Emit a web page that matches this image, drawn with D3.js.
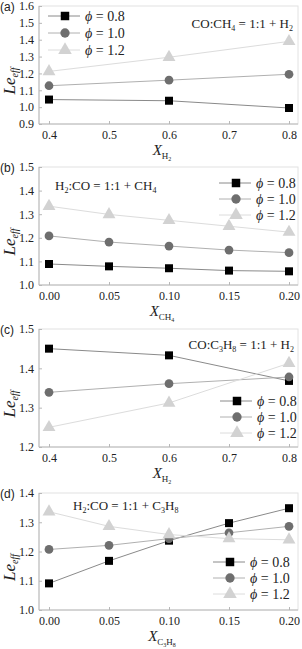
<!DOCTYPE html>
<html>
<head>
<meta charset="utf-8">
<script src="https://cdn.jsdelivr.net/npm/d3@7"></script>
<style>
  body { margin: 0; background: #fff; }
  svg { display: block; }
  text { font-family: "Liberation Serif", "Times New Roman", serif; fill: #222; }
  .plab { font-family: "Liberation Sans", Arial, sans-serif; font-size: 12px; }
</style>
</head>
<body>
<svg id="chart" width="302" height="649"></svg>
<script>
// panel (a): CO:CH4 = 1:1 + H2
var xA = [0.4, 0.6, 0.8];
var aPhi08 = [1.045, 1.038, 0.995];
var aPhi10 = [1.127, 1.160, 1.195];
var aPhi12 = [1.212, 1.296, 1.390];
var xTicksA = [0.4, 0.5, 0.6, 0.7, 0.8];
var yTicksA = [0.9, 1.0, 1.1, 1.2, 1.3, 1.4, 1.5, 1.6];

// panel (b): H2:CO = 1:1 + CH4
var xB = [0.00, 0.05, 0.10, 0.15, 0.20];
var bPhi08 = [1.089, 1.079, 1.071, 1.061, 1.058];
var bPhi10 = [1.208, 1.182, 1.165, 1.148, 1.137];
var bPhi12 = [1.334, 1.299, 1.274, 1.249, 1.224];
var xTicksB = [0.00, 0.05, 0.10, 0.15, 0.20];
var yTicksB = [1.0, 1.1, 1.2, 1.3, 1.4, 1.5];

// panel (c): CO:C3H8 = 1:1 + H2
var xC = [0.4, 0.6, 0.8];
var cPhi08 = [1.450, 1.433, 1.368];
var cPhi10 = [1.339, 1.361, 1.378];
var cPhi12 = [1.250, 1.312, 1.413];
var xTicksC = [0.4, 0.5, 0.6, 0.7, 0.8];
var yTicksC = [1.2, 1.3, 1.4, 1.5];

// panel (d): H2:CO = 1:1 + C3H8
var xD = [0.00, 0.05, 0.10, 0.15, 0.20];
var dPhi08 = [1.091, 1.168, 1.237, 1.297, 1.348];
var dPhi10 = [1.207, 1.221, 1.244, 1.264, 1.286];
var dPhi12 = [1.336, 1.286, 1.258, 1.244, 1.240];
var xTicksD = [0.00, 0.05, 0.10, 0.15, 0.20];
var yTicksD = [1.0, 1.1, 1.2, 1.3, 1.4];

var seriesNames = ["0.8", "1.0", "1.2"];
var markerFill = ["#000000", "#6e6e6e", "#d2d2d2"];
var lineColor = ["#8a8a8a", "#b0b0b0", "#dcdcdc"];
var markerType = [d3.symbolSquare, d3.symbolCircle, d3.symbolTriangle];
var markerSize = [64, 60, 72];

var svg = d3.select("#chart");

function drawPanel(p) {
    var g = svg.append("g");
    var left = 39, right = 298;

    var x = d3.scaleLinear().domain(p.xDomain).range([49, 289]);
    var y = d3.scaleLinear().domain(p.yDomain).range([p.bottom, p.top]);

    // frame
    g.append("rect")
        .attr("x", left).attr("y", p.top)
        .attr("width", right - left).attr("height", p.bottom - p.top)
        .attr("fill", "none").attr("stroke", "#e2e2e2").attr("stroke-width", 1);

    var xAxis = d3.axisBottom(x).tickValues(p.xTicks).tickSize(-3).tickPadding(6)
        .tickFormat(d3.format(p.xFmt));
    var gx = g.append("g").attr("transform", "translate(0," + p.bottom + ")").call(xAxis);
    gx.select(".domain").attr("d", "M" + left + ",0H" + right).attr("stroke", "#b8b8b8");
    gx.selectAll(".tick line").attr("stroke", "#b8b8b8");
    gx.selectAll("text").attr("font-size", 12).attr("fill", "#222")
        .attr("font-family", "Liberation Serif, serif");

    var yAxis = d3.axisLeft(y).tickValues(p.yTicks).tickSize(-3).tickPadding(5)
        .tickFormat(d3.format(".1f"));
    var gy = g.append("g").attr("transform", "translate(" + left + ",0)").call(yAxis);
    gy.select(".domain").attr("d", "M0," + p.top + "V" + p.bottom).attr("stroke", "#b8b8b8");
    gy.selectAll(".tick line").attr("stroke", "#b8b8b8");
    gy.selectAll("text").attr("font-size", 12).attr("fill", "#222")
        .attr("font-family", "Liberation Serif, serif");

    // panel letter
    g.append("text").attr("class", "plab").attr("x", 0).attr("y", p.top + 5).text(p.label);

    // y label Le_eff
    var yl = g.append("text")
        .attr("transform", "translate(15," + ((p.top + p.bottom) / 2 + 16) + ") rotate(-90)")
        .attr("text-anchor", "middle")
        .attr("font-size", 17).attr("font-style", "italic");
    yl.append("tspan").text("Le");
    yl.append("tspan").attr("font-size", 10).attr("dy", 3).text("eff");

    // x label
    var xl = g.append("text")
        .attr("x", 162).attr("y", p.bottom + 31)
        .attr("text-anchor", "middle")
        .attr("font-size", 15).attr("font-style", "italic");
    xl.append("tspan").text("X");
    p.xSub.forEach(function (s) {
        xl.append("tspan").attr("font-size", s.small ? 6 : 9).attr("font-style", "normal")
            .attr("dy", s.dy).text(s.t);
    });

    // series lines then markers
    var line = d3.line().x(function (d) { return x(d[0]); }).y(function (d) { return y(d[1]); });
    p.series.forEach(function (vals, i) {
        var pts = p.xs.map(function (xv, j) { return [xv, vals[j]]; });
        g.append("path").datum(pts).attr("d", line)
            .attr("fill", "none").attr("stroke", lineColor[i]).attr("stroke-width", 1);
    });
    p.series.forEach(function (vals, i) {
        var pts = p.xs.map(function (xv, j) { return [xv, vals[j]]; });
        g.selectAll(".m" + i).data(pts).enter().append("path")
            .attr("class", "m" + i)
            .attr("transform", function (d) { return "translate(" + x(d[0]) + "," + y(d[1]) + ")"; })
            .attr("d", d3.symbol().type(markerType[i]).size(markerSize[i]))
            .attr("fill", markerFill[i]);
    });

    // legend
    var lg = g.append("g");
    seriesNames.forEach(function (nm, i) {
        var ly = p.leg.y + i * p.leg.dy;
        lg.append("line").attr("x1", p.leg.x).attr("x2", p.leg.x + 32)
            .attr("y1", ly).attr("y2", ly).attr("stroke", lineColor[i]);
        lg.append("path").attr("transform", "translate(" + (p.leg.x + 17) + "," + ly + ")")
            .attr("d", d3.symbol().type(markerType[i]).size(markerSize[i] + 8))
            .attr("fill", markerFill[i]);
        var t = lg.append("text").attr("x", p.leg.x + 37).attr("y", ly + 5).attr("font-size", 14);
        t.append("tspan").attr("font-style", "italic").text("\u03d5");
        t.append("tspan").text(" = " + nm);
    });

    // annotation
    var an = g.append("text").attr("x", p.ann.x).attr("y", p.ann.y)
        .attr("text-anchor", p.ann.anchor).attr("font-size", 13);
    p.ann.parts.forEach(function (s) {
        if (s.sub) an.append("tspan").attr("font-size", 8).attr("dy", 3).text(s.t);
        else an.append("tspan").attr("dy", s.after ? -3 : 0).text(s.t);
    });
}

drawPanel({
    label: "(a)", top: 6, bottom: 124,
    xDomain: [0.4, 0.8], yDomain: [0.9, 1.6], xTicks: xTicksA, yTicks: yTicksA, xFmt: ".1f",
    xs: xA, series: [aPhi08, aPhi10, aPhi12],
    xSub: [{t: "H", dy: 4}, {t: "2", dy: 2, small: true}],
    leg: {x: 48, y: 16, dy: 17},
    ann: {x: 293, y: 28, anchor: "end",
        parts: [{t: "CO:CH"}, {t: "4", sub: true}, {t: " = 1:1 + H", after: true}, {t: "2", sub: true}]}
});

drawPanel({
    label: "(b)", top: 167, bottom: 285,
    xDomain: [0, 0.2], yDomain: [1.0, 1.5], xTicks: xTicksB, yTicks: yTicksB, xFmt: ".2f",
    xs: xB, series: [bPhi08, bPhi10, bPhi12],
    xSub: [{t: "CH", dy: 4}, {t: "4", dy: 2, small: true}],
    leg: {x: 219, y: 183, dy: 16},
    ann: {x: 55, y: 190, anchor: "start",
        parts: [{t: "H"}, {t: "2", sub: true}, {t: ":CO = 1:1 + CH", after: true}, {t: "4", sub: true}]}
});

drawPanel({
    label: "(c)", top: 329, bottom: 447,
    xDomain: [0.4, 0.8], yDomain: [1.2, 1.5], xTicks: xTicksC, yTicks: yTicksC, xFmt: ".1f",
    xs: xC, series: [cPhi08, cPhi10, cPhi12],
    xSub: [{t: "H", dy: 4}, {t: "2", dy: 2, small: true}],
    leg: {x: 220, y: 401, dy: 16},
    ann: {x: 294, y: 349, anchor: "end",
        parts: [{t: "CO:C"}, {t: "3", sub: true}, {t: "H", after: true}, {t: "8", sub: true},
            {t: " = 1:1 + H", after: true}, {t: "2", sub: true}]}
});

drawPanel({
    label: "(d)", top: 493, bottom: 610,
    xDomain: [0, 0.2], yDomain: [1.0, 1.4], xTicks: xTicksD, yTicks: yTicksD, xFmt: ".2f",
    xs: xD, series: [dPhi08, dPhi10, dPhi12],
    xSub: [{t: "C", dy: 4}, {t: "3", dy: 2, small: true}, {t: "H", dy: -2}, {t: "8", dy: 2, small: true}],
    leg: {x: 213, y: 562, dy: 16},
    ann: {x: 73, y: 510, anchor: "start",
        parts: [{t: "H"}, {t: "2", sub: true}, {t: ":CO = 1:1 + C", after: true}, {t: "3", sub: true},
            {t: "H", after: true}, {t: "8", sub: true}]}
});
</script>
</body>
</html>
